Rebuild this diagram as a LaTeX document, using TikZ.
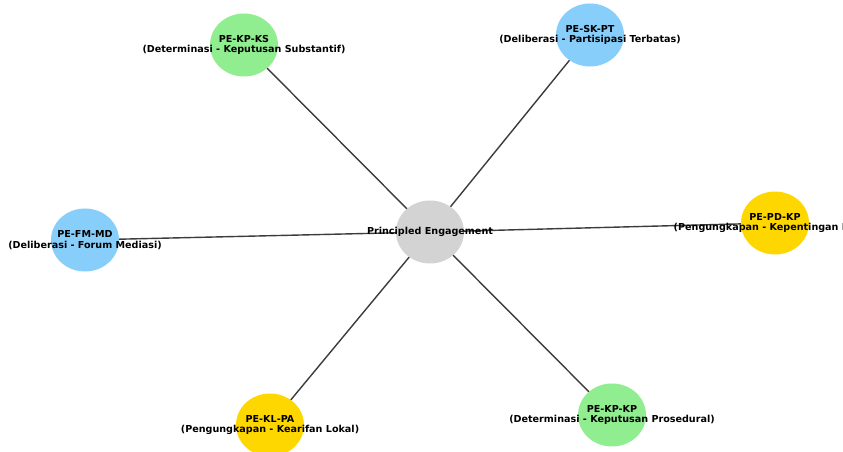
\documentclass[tikz,border=0pt]{standalone}
\usepackage{fontspec}
\setsansfont{DejaVu Sans}
\usetikzlibrary{shapes.geometric}

\definecolor{hubgray}{HTML}{D3D3D3}
\definecolor{leafgreen}{HTML}{90EE90}
\definecolor{leafblue}{HTML}{87CEFA}
\definecolor{leafgold}{HTML}{FFD700}
\definecolor{edgegray}{HTML}{3C3C3C}

\begin{document}
\begin{tikzpicture}[x=1pt, y=1pt,
    vertex/.style={ellipse, draw=none, minimum width=68pt, minimum height=63pt, inner sep=0pt},
    lbl/.style={align=center, inner sep=0pt, font=\sffamily\bfseries\fontsize{9.6}{10.5}\selectfont},
    edge/.style={draw=edgegray, line width=1.4pt, -}
]
    \useasboundingbox (0,0) rectangle (843,452);
    \clip (0,0) rectangle (843,452);
    \fill[white] (0,0) rectangle (843,452);

    \node[vertex, fill=hubgray] (pe) at (430,220) {};
    \node[vertex, fill=leafgreen] (ks) at (244,407) {};
    \node[vertex, fill=leafblue] (sk) at (590,417) {};
    \node[vertex, fill=leafblue] (fm) at (85,212) {};
    \node[vertex, fill=leafgold] (pd) at (775,229) {};
    \node[vertex, fill=leafgold] (kl) at (270,27) {};
    \node[vertex, fill=leafgreen] (kp) at (612,37) {};

    \draw[edge] (pe) -- (ks);
    \draw[edge] (pe) -- (sk);
    \draw[edge] (pe) -- (fm);
    \draw[edge] (pe) -- (pd);
    \draw[edge] (pe) -- (kl);
    \draw[edge] (pe) -- (kp);

    \node[lbl] (pe-lbl) at (pe) {Principled Engagement};
    \node[lbl] (ks-lbl) at (ks) {PE-KP-KS\\(Determinasi - Keputusan Substantif)};
    \node[lbl] (sk-lbl) at (sk) {PE-SK-PT\\(Deliberasi - Partisipasi Terbatas)};
    \node[lbl] (fm-lbl) at (fm) {PE-FM-MD\\(Deliberasi - Forum Mediasi)};
    \node[lbl] (pd-lbl) at (pd) {PE-PD-KP\\(Pengungkapan - Kepentingan Pihak)};
    \node[lbl] (kl-lbl) at (kl) {PE-KL-PA\\(Pengungkapan - Kearifan Lokal)};
    \node[lbl] (kp-lbl) at (kp) {PE-KP-KP\\(Determinasi - Keputusan Prosedural)};
\end{tikzpicture}
\end{document}
